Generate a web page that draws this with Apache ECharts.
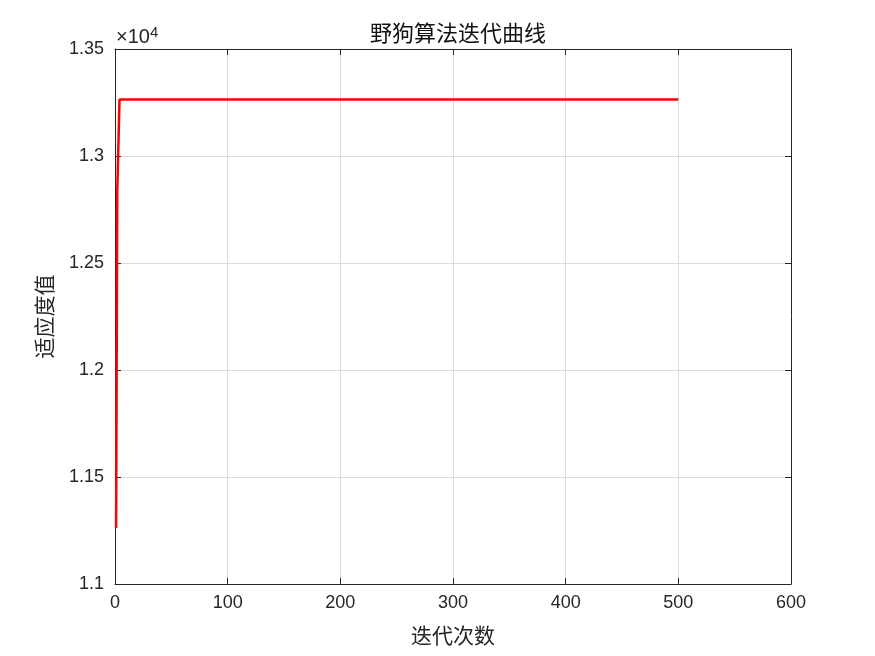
<!DOCTYPE html>
<html><head><meta charset="utf-8">
<script src="https://cdn.jsdelivr.net/npm/echarts@6/dist/echarts.min.js"></script>
<style>html,body{margin:0;padding:0;background:#fff}#c{width:875px;height:656px}</style>
</head><body><div id="c"></div>
<script>
const iterations = [1, 2, 3, 4, 500];
const fitness = [11262, 12828, 12832, 13264, 13264];
const xTicks = [0, 100, 200, 300, 400, 500, 600];
const yTicks = [11000, 11500, 12000, 12500, 13000, 13500];
const titleText = '野狗算法迭代曲线';
const xName = '迭代次数';
const yName = '适应度值';

const chart = echarts.init(document.getElementById('c'));
const axisFont = {fontFamily: 'Liberation Sans, Arial, sans-serif', fontSize: 18, color: '#262626'};
const lineStyle = {color: '#262626', width: 1};
const fmtY = v => (v / 10000).toString();
chart.setOption({
  animation: false,
  backgroundColor: '#fff',
  grid: {left: 115, right: 84, top: 49, bottom: 72, containLabel: false},
  title: {text: titleText, left: 453, top: 17, textAlign: 'center',
    textStyle: {fontFamily: 'Noto Sans CJK SC', fontSize: 22, fontWeight: 'normal', color: '#111'}},
  graphic: [
    {type: 'text', left: 116, top: 25, style: {text: '×10{s|4}', rich: {s: {fontSize: 15, verticalAlign: 'top', padding: [0,0,10,0], fontFamily: 'Liberation Sans, Arial', fill: '#262626'}}, font: '20px Liberation Sans, Arial', fill: '#262626'}}
  ],
  xAxis: [
    {type: 'value', min: xTicks[0], max: xTicks[xTicks.length-1], interval: 100,
      name: xName, nameLocation: 'middle', nameGap: 41,
      nameTextStyle: {fontFamily: 'Noto Sans CJK SC', fontSize: 21, color: '#262626'},
      axisLine: {show: true, lineStyle}, axisTick: {show: true, inside: true, length: 6, lineStyle},
      axisLabel: {...axisFont, margin: 10},
      splitLine: {show: true, lineStyle: {color: '#dcdcdc', width: 1}}},
    {type: 'value', position: 'top', min: xTicks[0], max: xTicks[xTicks.length-1], interval: 100,
      axisLine: {show: true, onZero: false, lineStyle}, axisTick: {show: true, inside: true, length: 6, lineStyle},
      axisLabel: {show: false}, splitLine: {show: false}}
  ],
  yAxis: [
    {type: 'value', min: yTicks[0], max: yTicks[yTicks.length-1], interval: 500,
      name: yName, nameLocation: 'middle', nameGap: 60, nameRotate: 90,
      nameTextStyle: {fontFamily: 'Noto Sans CJK SC', fontSize: 21, color: '#262626'},
      axisLine: {show: true, lineStyle}, axisTick: {show: true, inside: true, length: 6, lineStyle},
      axisLabel: {...axisFont, margin: 11, formatter: fmtY},
      splitLine: {show: true, lineStyle: {color: '#dcdcdc', width: 1}}},
    {type: 'value', position: 'right', min: yTicks[0], max: yTicks[yTicks.length-1], interval: 500,
      axisLine: {show: true, onZero: false, lineStyle}, axisTick: {show: true, inside: true, length: 6, lineStyle},
      axisLabel: {show: false}, splitLine: {show: false}}
  ],
  series: [{type: 'line', xAxisIndex: 0, yAxisIndex: 0, showSymbol: false, symbol: 'none',
    data: iterations.map((x, i) => [x, fitness[i]]),
    lineStyle: {color: '#ff0000', width: 2.5}}]
});
</script></body></html>
